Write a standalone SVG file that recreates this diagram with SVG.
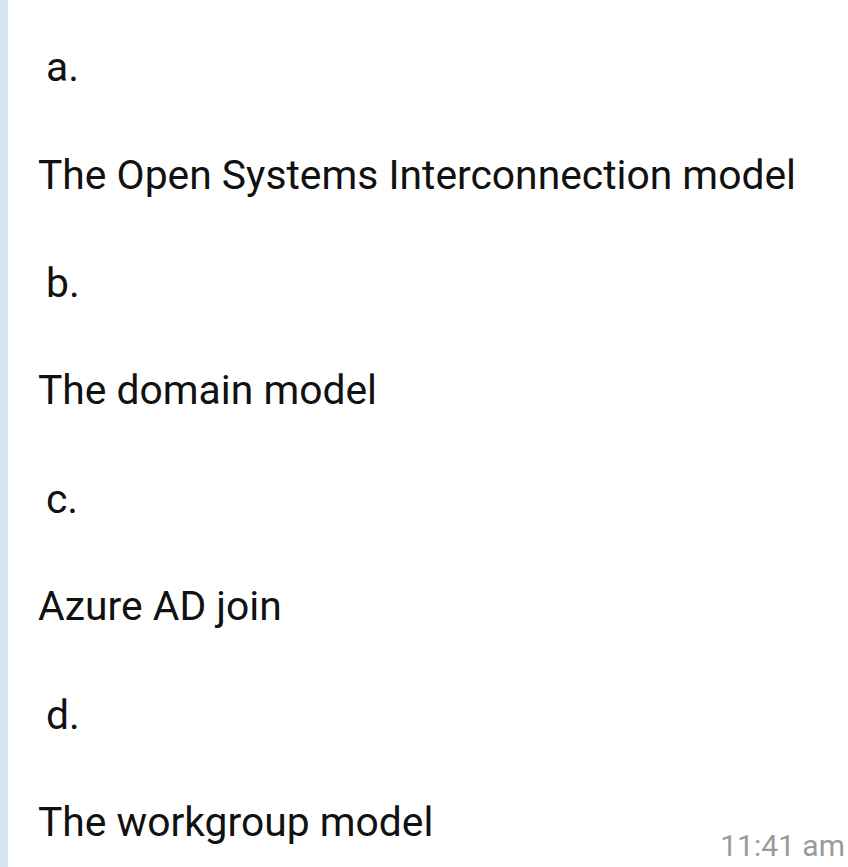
<svg xmlns="http://www.w3.org/2000/svg" width="848" height="867" viewBox="0 0 848 867">
<style>
.t{font-family:Roboto,"Liberation Sans",sans-serif;font-size:40.8px;fill:#111}
.ts{font-family:Roboto,"Liberation Sans",sans-serif;font-size:30px;fill:#9a9a9a}
</style>
<rect width="848" height="867" fill="#fff"/>
<rect x="0" y="0" width="8" height="867" fill="#d6e4ef"/>
<g id="text">
<text class="t" x="46" y="81">a.</text>
<text class="t" x="38" y="189" textLength="758">The Open Systems Interconnection model</text>
<text class="t" x="46" y="297">b.</text>
<text class="t" x="38" y="404">The domain model</text>
<text class="t" x="46" y="513">c.</text>
<text class="t" x="38" y="620">Azure AD join</text>
<text class="t" x="46" y="729">d.</text>
<text class="t" x="38" y="836">The workgroup model</text>
<text class="ts" x="845" y="856" text-anchor="end">11:41 am</text>
</g>
</svg>
